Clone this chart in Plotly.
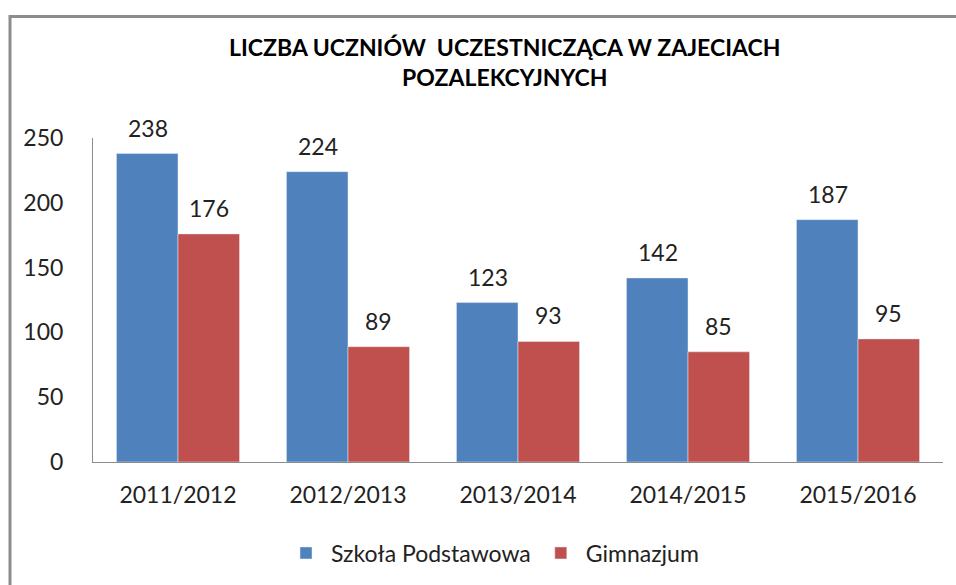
import plotly.graph_objects as go

categories = ["2011/2012", "2012/2013", "2013/2014", "2014/2015", "2015/2016"]
szkola = [238, 224, 123, 142, 187]
gimnazjum = [176, 89, 93, 85, 95]

FONT = "Lato, 'Open Sans', sans-serif"
FS = 23

L, R, T, B = 93, 13, 138, 122
W, H = 956, 585
pw, ph = W - L - R, H - T - B

def px(x):
    return (x - L) / pw

def py(y):
    return (H - B - y) / ph

fig = go.Figure()
fig.add_trace(go.Bar(name="Szkoła Podstawowa", x=categories, y=szkola,
                     marker_color="#4F81BD", offsetgroup="a"))
fig.add_trace(go.Bar(name="Gimnazjum", x=categories, y=gimnazjum,
                     marker_color="#C0504D", offsetgroup="b"))

annotations = []
for i, c in enumerate(categories):
    for val, xs in ((szkola[i], -30.5), (gimnazjum[i], 30.5)):
        annotations.append(dict(x=c, y=val, xref="x", yref="y", text=str(val),
                                showarrow=False, xshift=xs, yshift=26, yanchor="middle",
                                font=dict(size=FS, family=FONT, color="#222222")))

fig.update_layout(
    width=W, height=H,
    margin=dict(l=L, r=R, t=T, b=B),
    paper_bgcolor="white", plot_bgcolor="white",
    barmode="group", bargap=0.276, bargroupgap=0,
    font=dict(family=FONT, size=FS, color="#222222"),
    title=dict(text="<b>LICZBA UCZNIÓW  UCZESTNICZĄCA W ZAJECIACH<br>POZALEKCYJNYCH</b>",
               x=0.528, xanchor="center", y=1 - 56 / H, yanchor="middle",
               font=dict(size=FS, family=FONT, color="black")),
    showlegend=True,
    legend=dict(orientation="h", x=0.47, xanchor="center", y=py(553), yanchor="middle",
                font=dict(size=FS, family=FONT), traceorder="normal", itemwidth=40),
    annotations=annotations,
    xaxis=dict(showline=True, linecolor="#8c8c8c", linewidth=1, ticks="",
               tickfont=dict(size=FS), showgrid=False, ticklabelstandoff=12),
    yaxis=dict(range=[0, 250], showline=True, linecolor="#8c8c8c", linewidth=1,
               tickvals=[0, 50, 100, 150, 200, 250], ticks="", showgrid=False,
               zeroline=False, tickfont=dict(size=FS), ticklabelstandoff=24),
    shapes=[dict(type="rect", xref="paper", yref="paper",
                 x0=px(10), x1=px(970), y0=py(16), y1=py(600),
                 line=dict(color="#8c8c8c", width=3), fillcolor="rgba(0,0,0,0)", layer="below")],
)

fig.write_html("out.html", config={"displayModeBar": False},
               post_script="document.body.style.margin='0';document.body.style.overflow='hidden';")
